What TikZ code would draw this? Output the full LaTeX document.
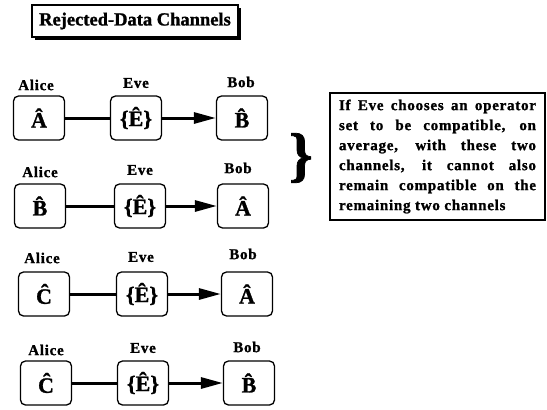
\documentclass[tikz,border=0pt]{standalone}
\usepackage{fontspec}
\setmainfont{Liberation Serif}
\newfontfamily\widefont[LetterSpace=5,FakeBold=1.2]{Liberation Serif}
\newfontfamily\heavyfont[FakeBold=1.2]{Liberation Serif}
\usetikzlibrary{arrows.meta}
\tikzset{
  party/.style={inner sep=0pt, font=\widefont\fontsize{15}{15}\selectfont\bfseries},
  opbox/.style={draw, rounded corners=5pt, line width=1.3pt, minimum width=51pt,
    minimum height=44pt, inner sep=0pt, font=\heavyfont\fontsize{22}{22}\selectfont\bfseries},
  link/.style={line width=3pt},
  feed/.style={line width=3pt, -{Triangle[length=22pt,width=11pt]}},
  titlebox/.style={draw, fill=white, line width=1.3pt, minimum width=206pt,
    minimum height=32pt, inner sep=0pt, font=\heavyfont\fontsize{18.5}{18.5}\selectfont\bfseries},
  notebox/.style={draw, line width=1.3pt, minimum width=215pt, minimum height=127pt,
    text width=197pt, align=justify, inner sep=0pt,
    font=\widefont\fontsize{15}{20}\selectfont\bfseries},
}
\begin{document}
\begin{tikzpicture}[x=1pt,y=-1pt]
\useasboundingbox (0,0) rectangle (547,410);

% heading with drop shadow
\fill (35,8) rectangle (241,40);
\node[titlebox] (title) at (135,21) {Rejected-Data Channels};

% channel 1
\node[party] (la1) at (36,85) {Alice};
\node[party] (le1) at (136,83) {Eve};
\node[party] (lb1) at (241,82) {Bob};
\node[opbox] (a1) at (39,118) {\^{A}};
\node[opbox] (e1) at (136,118) {\{\^{E}\}};
\node[opbox] (b1) at (242,118) {\^{B}};
\draw[link] (a1) -- (e1);
\draw[feed] (e1) -- (b1);

% channel 2
\node[party] (la2) at (40,172) {Alice};
\node[party] (le2) at (140,170) {Eve};
\node[party] (lb2) at (238,168) {Bob};
\node[opbox] (a2) at (40,206) {\^{B}};
\node[opbox] (e2) at (140,206) {\{\^{E}\}};
\node[opbox] (b2) at (243,206) {\^{A}};
\draw[link] (a2) -- (e2);
\draw[feed] (e2) -- (b2);

% channel 3
\node[party] (la3) at (42,258) {Alice};
\node[party] (le3) at (141,257) {Eve};
\node[party] (lb3) at (243,254) {Bob};
\node[opbox] (a3) at (44,294) {\^{C}};
\node[opbox] (e3) at (142,294) {\{\^{E}\}};
\node[opbox] (b3) at (247,294) {\^{A}};
\draw[link] (a3) -- (e3);
\draw[feed] (e3) -- (b3);

% channel 4
\node[party] (la4) at (46,350) {Alice};
\node[party] (le4) at (143,348) {Eve};
\node[party] (lb4) at (247,347) {Bob};
\node[opbox] (a4) at (46,383) {\^{C}};
\node[opbox] (e4) at (143,383) {\{\^{E}\}};
\node[opbox] (b4) at (249,383) {\^{B}};
\draw[link] (a4) -- (e4);
\draw[feed] (e4) -- (b4);

% brace grouping the first two channels, and the remark
\node[inner sep=0pt, font=\heavyfont\fontsize{60}{60}\selectfont\bfseries] (brace) at (301,158) {\}};
\node[notebox] (note) at (437.5,156.5) {If Eve chooses an operator\linebreak
  set to be compatible, on\linebreak
  average, with these two\linebreak
  channels, it cannot also\linebreak
  remain compatible on the\linebreak
  remaining two channels};
\end{tikzpicture}
\end{document}
